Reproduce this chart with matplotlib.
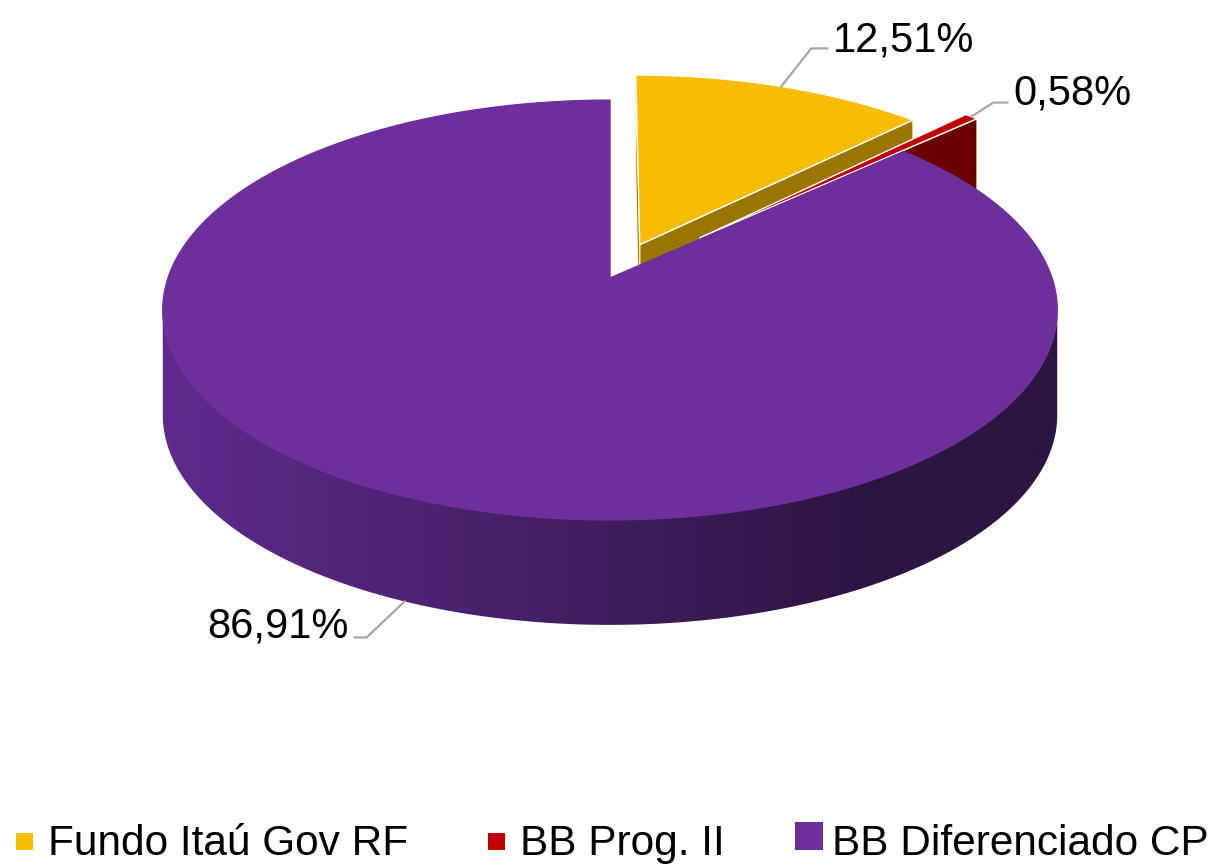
import numpy as np
import matplotlib.pyplot as plt
from matplotlib.patches import Rectangle
from matplotlib.colors import to_rgb

plt.rcParams['font.family'] = ['Liberation Sans', 'DejaVu Sans']

# data
labels = ['Fundo Itaú Gov RF', 'BB Prog. II', 'BB Diferenciado CP']
values = [12.51, 0.58, 86.91]
value_text = ['12,51%', '0,58%', '86,91%']

# styles
top_colors = ['#F8BC00', '#C00000', '#6E2F9C']
side_colors = ['#9A7500', '#6B0000', '#4A2270']
explode = [0.18, 0.29, 0.0]
wall_left = np.array(to_rgb('#5E2B8C'))
wall_right = np.array(to_rgb('#2C1541'))

# projection of the tilted pie (pixel space)
cx, cy = 610, 278
rx, ry = 442, 205
persp = 0.1525
depth = 105


def project(u, v, h=0.0):
    d = 1 - persp * v
    return cx + rx * u / d, cy + ry * v / d + h * depth


def area(pts):
    pts = np.asarray(pts)
    x, y = pts[:, 0], pts[:, 1]
    return 0.5 * np.sum(x * np.roll(y, -1) - np.roll(x, -1) * y)


fig = plt.figure(figsize=(12.24, 8.66), dpi=100)
ax = fig.add_axes([0, 0, 1, 1])
ax.set_xlim(0, 1224)
ax.set_ylim(866, 0)
ax.axis('off')

total = sum(values)
bounds = np.concatenate([[0], np.cumsum(values)]) / total * 360.0

# horizontal shading ramp for the big wall
ramp_x = np.linspace(0, 1224, 600)
t = np.clip((ramp_x - 170) / (880 - 170), 0, 1)[None, :, None]
ramp = wall_left * (1 - t) + wall_right * t

tops = []
anchors = []
for i in range(len(values)):
    a0, a1 = bounds[i], bounds[i + 1]
    mid = np.radians((a0 + a1) / 2)
    du, dv = explode[i] * np.sin(mid), -explode[i] * np.cos(mid)
    angs = np.radians(np.linspace(a0, a1, max(3, int((a1 - a0) * 3))))
    us = np.sin(angs) + du
    vs = -np.cos(angs) + dv

    top = [project(du, dv)] + [project(u, v) for u, v in zip(us, vs)]
    tops.append(top)

    # outer curved wall: keep the part facing the viewer
    keep = []
    for j in range(len(angs) - 1):
        q = [project(us[j], vs[j]), project(us[j + 1], vs[j + 1]),
             project(us[j + 1], vs[j + 1], 1), project(us[j], vs[j], 1)]
        if area(q) < 0:
            keep += [j, j + 1]
    if keep:
        idx = sorted(set(keep))
        upper = [project(us[j], vs[j]) for j in idx]
        lower = [project(us[j], vs[j], 1) for j in idx][::-1]
        wall = plt.Polygon(upper + lower, closed=True, facecolor='none',
                           edgecolor='none', zorder=1 + i * 0.1)
        ax.add_patch(wall)
        if i == 2:
            im = ax.imshow(ramp, extent=(0, 1224, 866, 0), aspect='auto',
                           zorder=1 + i * 0.1, interpolation='bilinear')
            im.set_clip_path(wall)
        else:
            wall.set_facecolor(side_colors[i])

    # radial cut faces
    for a, sign in [(a1, 1), (a0, -1)]:
        ar = np.radians(a)
        u, v = np.sin(ar) + du, -np.cos(ar) + dv
        face = [project(du, dv), project(u, v), project(u, v, 1), project(du, dv, 1)]
        if sign * area(face) > 1:
            ax.add_patch(plt.Polygon(face, closed=True, facecolor=side_colors[i],
                                     edgecolor='#FFF3D0', linewidth=0.8,
                                     zorder=1 + i * 0.1))

    # label anchor
    um, vm = np.sin(mid) * (1 + explode[i]), -np.cos(mid) * (1 + explode[i])
    anchors.append(project(um, vm, 1 if -np.cos(mid) > 0 else 0))

ax.set_xlim(0, 1224)
ax.set_ylim(866, 0)

for i, top in enumerate(tops):
    ec = 'white' if i < 2 else top_colors[i]
    ax.add_patch(plt.Polygon(top, closed=True, facecolor=top_colors[i],
                             edgecolor=ec, linewidth=1.0, zorder=3))

# data labels with leader lines (elbow offsets, horizontal run, baseline shift)
leader = [(30, -38, 16, 3), (22, -14, 14, 2), (-38, 36, -12, 0)]
for i, (x0, y0) in enumerate(anchors):
    ex, ey, hr, bs = leader[i]
    x1, y1 = x0 + ex, y0 + ey
    x2 = x1 + hr
    ax.plot([x0, x1, x2], [y0, y1, y1], color='#A6A6A6', lw=1.6, zorder=4)
    ha = 'left' if hr > 0 else 'right'
    ax.text(x2 + (6 if hr > 0 else -6), y1 + bs, value_text[i], fontsize=30,
            ha=ha, va='baseline', color='black', zorder=5)

# legend
key_x = [16, 488, 795]
key_size = [17, 17, 28]
text_x = [48, 520, 832]
base_y = 855
for i, lab in enumerate(labels):
    s = key_size[i]
    ax.add_patch(Rectangle((key_x[i], 850 - s), s, s, facecolor=top_colors[i],
                           edgecolor='none', zorder=5))
    ax.text(text_x[i], base_y, lab, fontsize=30.5, ha='left', va='baseline',
            color='black')

fig.savefig('out.png', dpi=100)
